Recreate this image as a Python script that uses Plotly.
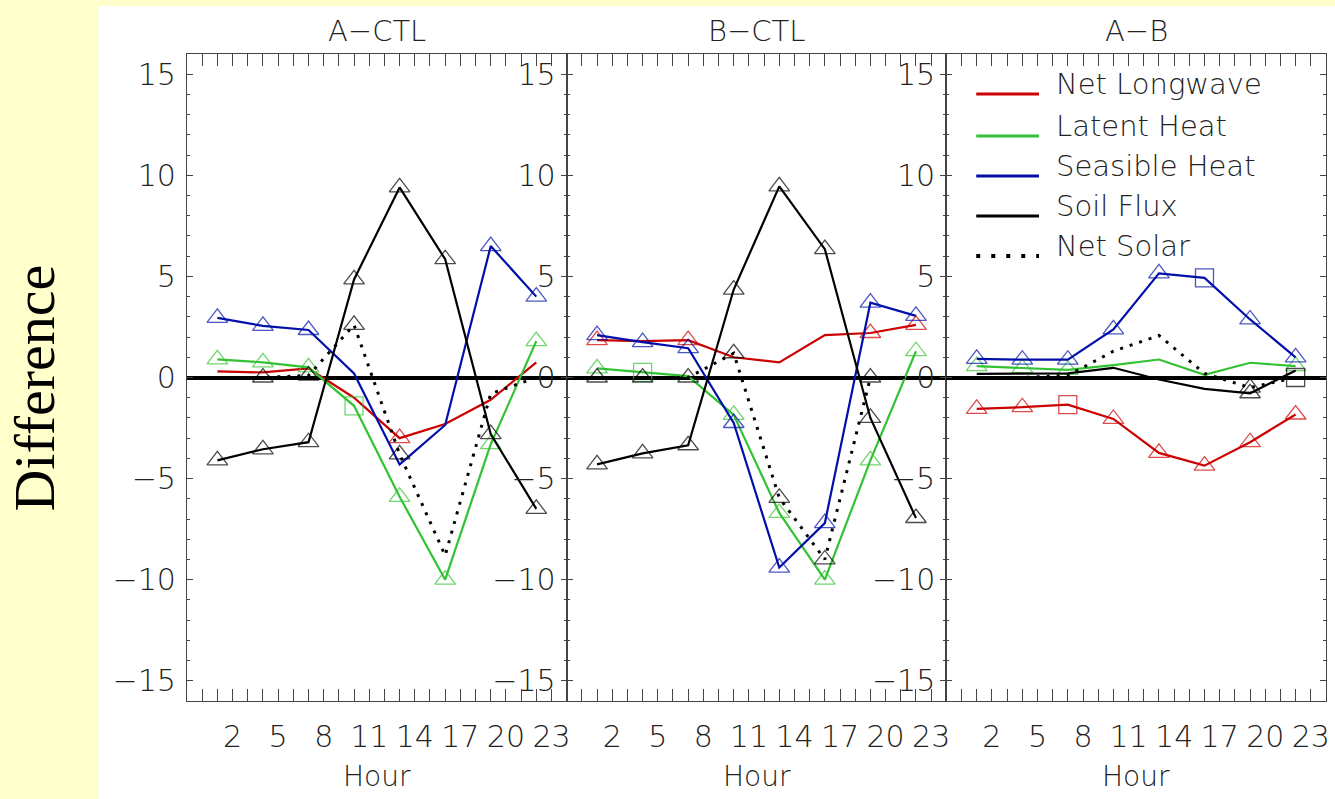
import plotly.graph_objects as go

# ---------------- data ----------------
hours = [1, 4, 7, 10, 13, 16, 19, 22]
tick_hours = [2, 5, 8, 11, 14, 17, 20, 23]
tick_labels = ["2", "5", "8", "11", "14", "17", "20", "23"]
y_ticks = [-15, -10, -5, 0, 5, 10, 15]

panel_titles = ["A\u2212CTL", "B\u2212CTL", "A\u2212B"]
series_names = ["Net Longwave", "Latent Heat", "Seasible Heat", "Soil Flux", "Net Solar"]

# A-CTL
lw_a = [0.3, 0.25, 0.45, -1.0, -3.0, -2.3, -1.1, 0.75]
lh_a = [0.9, 0.75, 0.5, -1.4, -5.9, -10.0, -3.3, 1.8]
sh_a = [2.95, 2.55, 2.35, 0.2, -4.3, -2.35, 6.5, 4.0]
sf_a = [-4.1, -3.55, -3.2, 4.85, 9.4, 5.85, -2.8, -6.5]
ns_a = [0.0, 0.0, 0.1, 2.6, -3.8, -8.8, -0.8, 0.0]
# significance flags: t = triangle, s = square, "" = none
lw_a_sig = ["", "", "", "", "t", "", "", ""]
lh_a_sig = ["t", "t", "t", "s", "t", "t", "t", "t"]
sh_a_sig = ["t", "t", "t", "", "", "", "t", "t"]
sf_a_sig = ["t", "t", "t", "t", "t", "t", "t", "t"]
ns_a_sig = ["", "t", "t", "t", "t", "", "", ""]

# B-CTL
lw_b = [1.85, 1.8, 1.85, 1.0, 0.75, 2.1, 2.2, 2.6]
lh_b = [0.45, 0.25, 0.07, -1.85, -6.7, -10.0, -4.1, 1.3]
sh_b = [2.1, 1.75, 1.45, -2.25, -9.4, -7.2, 3.7, 3.05]
sf_b = [-4.3, -3.75, -3.35, 4.35, 9.45, 6.35, -2.0, -6.95]
ns_b = [0.0, 0.0, 0.0, 1.2, -5.95, -9.0, 0.0, 0.0]
lw_b_sig = ["t", "", "t", "", "", "", "t", "t"]
lh_b_sig = ["t", "s", "", "t", "t", "t", "t", "t"]
sh_b_sig = ["t", "t", "t", "t", "t", "t", "t", "t"]
sf_b_sig = ["t", "t", "t", "t", "t", "t", "t", "t"]
ns_b_sig = ["t", "t", "t", "t", "t", "t", "t", ""]

# A-B
lw_c = [-1.55, -1.47, -1.34, -2.05, -3.73, -4.36, -3.2, -1.83]
lh_c = [0.56, 0.46, 0.38, 0.61, 0.89, 0.13, 0.73, 0.56]
sh_c = [0.92, 0.88, 0.88, 2.38, 5.15, 4.93, 2.87, 1.0]
sf_c = [0.18, 0.2, 0.2, 0.48, -0.1, -0.56, -0.78, 0.35]
ns_c = [0.0, 0.0, 0.1, 1.3, 2.08, 0.2, -0.5, 0.0]
lw_c_sig = ["t", "t", "s", "t", "t", "t", "t", "t"]
lh_c_sig = ["t", "t", "t", "", "", "", "", "t"]
sh_c_sig = ["t", "t", "t", "t", "t", "s", "t", "t"]
sf_c_sig = ["", "", "", "", "", "", "t", ""]
ns_c_sig = ["", "", "", "", "", "", "t", "s"]

panels = [
    [(lw_a, lw_a_sig), (lh_a, lh_a_sig), (sh_a, sh_a_sig), (sf_a, sf_a_sig), (ns_a, ns_a_sig)],
    [(lw_b, lw_b_sig), (lh_b, lh_b_sig), (sh_b, sh_b_sig), (sf_b, sf_b_sig), (ns_b, ns_b_sig)],
    [(lw_c, lw_c_sig), (lh_c, lh_c_sig), (sh_c, sh_c_sig), (sf_c, sf_c_sig), (ns_c, ns_c_sig)],
]

# ---------------- style ----------------
colors = ["#CC0000", "#33C233", "#0010A8", "#000000", "#000000"]
dashes = ["solid", "solid", "solid", "solid", "3px,7px"]
widths = [2.2, 2.2, 2.2, 2.2, 3]
FONT = "DejaVu Sans"
WEIGHT = 200
TXT = "#222222"
AX = "#444444"

W, H = 1335, 799
ML, MR, MT, MB = 187, 5, 54, 98
PW = W - ML - MR
PH = H - MT - MB


def px_x(p):
    return (p - ML) / PW


def px_y(p):
    return (H - MB - p) / PH


def tfont(size, color=TXT):
    return dict(family=FONT, size=size, color=color, weight=WEIGHT)


fig = go.Figure()
sym_map = {"t": "triangle-up-open", "s": "square-open", "": "circle-open"}
size_map = {"t": 18, "s": 18, "": 0}

for pi, series in enumerate(panels):
    xa = "x" if pi == 0 else f"x{pi+1}"
    ya = "y" if pi == 0 else f"y{pi+1}"
    for si in range(5):
        vals, sig = series[si]
        fig.add_trace(go.Scatter(
            x=hours, y=vals, xaxis=xa, yaxis=ya, mode="lines+markers",
            line=dict(color=colors[si], width=widths[si], dash=dashes[si]),
            marker=dict(symbol=[sym_map[s] for s in sig], size=[size_map[s] for s in sig],
                        color=colors[si], line=dict(color=colors[si], width=1.3)),
            showlegend=False, hoverinfo="skip", cliponaxis=False,
        ))

layout = dict(
    width=W, height=H, autosize=False,
    margin=dict(l=ML, r=MR, t=MT, b=MB),
    paper_bgcolor="#FFFFCC", plot_bgcolor="white",
    showlegend=False,
    font=dict(family=FONT, color=TXT),
)
for pi in range(3):
    sx = "" if pi == 0 else str(pi + 1)
    layout[f"xaxis{sx}"] = dict(
        domain=[pi / 3, (pi + 1) / 3], anchor=f"y{sx}", range=[-1, 24],
        tickvals=tick_hours, ticktext=tick_labels,
        ticks="inside", ticklen=12, tickwidth=1.1, tickcolor=AX,
        minor=dict(dtick=1, tick0=0, ticks="inside", ticklen=12, tickwidth=1.1, tickcolor=AX),
        showline=True, linecolor=AX, linewidth=1.2, mirror="allticks",
        showgrid=False, zeroline=False,
        tickfont=tfont(30), ticklabelstandoff=9,
    )
    layout[f"yaxis{sx}"] = dict(
        domain=[0, 1], anchor=f"x{sx}", range=[-16, 16],
        tickvals=y_ticks,
        ticks="inside", ticklen=6, tickwidth=1.1, tickcolor=AX,
        minor=dict(dtick=1, tick0=0, ticks="inside", ticklen=3, tickwidth=1.1, tickcolor=AX),
        showline=True, linecolor=AX, linewidth=1.2, mirror="allticks",
        showgrid=False, zeroline=True, zerolinecolor="black", zerolinewidth=4,
        tickfont=tfont(30), ticklabelstandoff=4,
    )
fig.update_layout(**layout)

# white page area behind the plots
fig.add_shape(type="rect", xref="paper", yref="paper", layer="below",
              x0=px_x(98), x1=px_x(W + 5), y0=px_y(H + 5), y1=px_y(6),
              fillcolor="white", line=dict(width=0))

ann = []
for pi in range(3):
    cx = (pi + 0.5) / 3
    ann.append(dict(text=panel_titles[pi], x=cx, y=px_y(31), xref="paper", yref="paper",
                    showarrow=False, font=tfont(29),
                    xanchor="center", yanchor="middle"))
    ann.append(dict(text="Hour", x=cx, y=px_y(776), xref="paper", yref="paper",
                    showarrow=False, font=tfont(28),
                    xanchor="center", yanchor="middle"))

ann.append(dict(text="Difference", x=px_x(34), y=px_y(388), xref="paper", yref="paper",
                showarrow=False, textangle=-90,
                font=dict(family="Liberation Serif", size=58, color="black"),
                xanchor="center", yanchor="middle"))

# legend (panel 3, upper left)
rows = [94, 136, 176, 216, 256]
for i, name in enumerate(series_names):
    fig.add_shape(type="line", xref="paper", yref="paper",
                  x0=px_x(979), x1=px_x(1042), y0=px_y(rows[i]), y1=px_y(rows[i]),
                  line=dict(color=colors[i], width=3 if i < 4 else 4,
                            dash="solid" if i < 4 else "4px,11px"))
    ann.append(dict(text=name, x=px_x(1057), y=px_y(rows[i] - 10), xref="paper", yref="paper",
                    showarrow=False, font=tfont(29),
                    xanchor="left", yanchor="middle"))

fig.update_layout(annotations=ann)
fig.write_html("out.html")
